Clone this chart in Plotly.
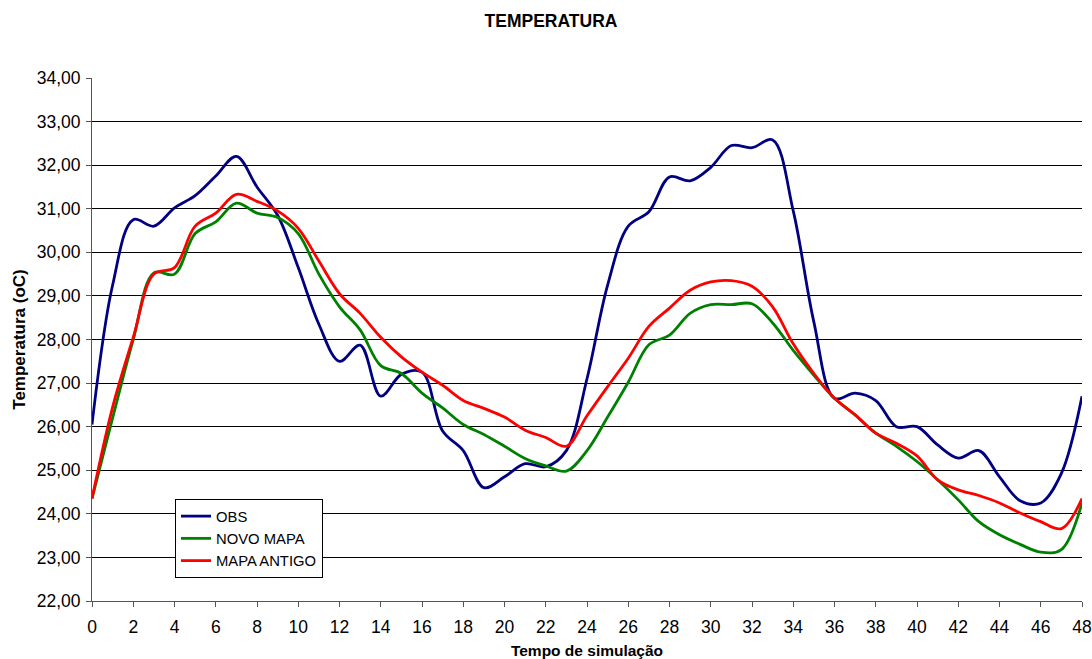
import plotly.graph_objects as go

hours = list(range(49))
obs = [26.05, 29.25, 30.75, 30.6, 31.02, 31.3, 31.75, 32.2, 31.5, 30.85,
       29.65, 28.35, 27.5, 27.87, 26.7, 27.2, 27.25, 25.9, 25.45, 24.6,
       24.85, 25.15, 25.08, 25.45, 27.1, 29.25, 30.6, 30.93, 31.73, 31.64,
       31.95, 32.45, 32.4, 32.58, 30.95, 28.4, 26.65, 26.77, 26.6, 26.0,
       26.0, 25.58, 25.28, 25.45, 24.85, 24.3, 24.25, 24.93, 26.7]
novo_mapa = [24.35, 26.2, 28.0, 29.53, 29.5, 30.43, 30.7, 31.13, 30.9, 30.8,
             30.43, 29.5, 28.75, 28.22, 27.4, 27.22, 26.77, 26.43, 26.05, 25.82,
             25.55, 25.27, 25.1, 24.98, 25.45, 26.22, 27.02, 27.88, 28.1, 28.6,
             28.8, 28.8, 28.82, 28.38, 27.75, 27.18, 26.65, 26.27, 25.85, 25.55,
             25.2, 24.78, 24.32, 23.82, 23.52, 23.3, 23.12, 23.18, 24.25]
mapa_antigo = [24.35, 26.45, 28.05, 29.5, 29.65, 30.6, 30.9, 31.33, 31.17, 30.95,
               30.55, 29.8, 29.05, 28.6, 28.05, 27.6, 27.25, 26.95, 26.6, 26.42,
               26.22, 25.92, 25.75, 25.55, 26.25, 26.92, 27.57, 28.3, 28.72, 29.13,
               29.32, 29.35, 29.22, 28.75, 27.9, 27.22, 26.65, 26.27, 25.85, 25.62,
               25.33, 24.78, 24.55, 24.42, 24.25, 24.02, 23.82, 23.66, 24.35]

series_names = ["OBS", "NOVO MAPA", "MAPA ANTIGO"]
series_colors = ["#000080", "#008000", "#FF0000"]
x_ticks = list(range(0, 49, 2))
y_ticks = list(range(22, 35))

FONT = "Liberation Sans, Arial, sans-serif"

fig = go.Figure()
for name, vals, col in zip(series_names, [obs, novo_mapa, mapa_antigo], series_colors):
    fig.add_trace(go.Scatter(
        x=hours, y=vals, name=name, mode="lines",
        line=dict(color=col, width=2.8, shape="spline", smoothing=1.0),
    ))

fig.update_layout(
    width=1092, height=659,
    margin=dict(l=92, r=10, t=78, b=58, autoexpand=False),
    paper_bgcolor="white", plot_bgcolor="white",
    font=dict(family=FONT, color="black", size=17),
    separators=",.",
    title=dict(text="<b>TEMPERATURA</b>", x=551 / 1092, xanchor="center",
               y=1 - 21 / 659, yanchor="middle",
               font=dict(size=17.5, family=FONT, color="black")),
    legend=dict(x=(175 - 92) / 990, y=(601 - 499) / 523, xanchor="left", yanchor="top",
                bordercolor="black", borderwidth=1, bgcolor="white",
                font=dict(size=14.8, family=FONT, color="black"),
                tracegroupgap=0, itemwidth=30),
    showlegend=True,
)

fig.update_xaxes(
    range=[0, 48], tickvals=x_ticks, ticktext=[str(v) for v in x_ticks],
    showgrid=False, zeroline=False,
    showline=True, linecolor="#555555", linewidth=1,
    ticks="outside", ticklen=5, tickcolor="#555555",
    tickfont=dict(size=17.5, family=FONT), ticklabelstandoff=5,
    title=dict(text="<b>Tempo de simulação</b>", font=dict(size=15.5, family=FONT), standoff=13),
)
fig.update_yaxes(
    range=[22, 34], tickvals=y_ticks, tickformat=".2f",
    showgrid=True, gridcolor="black", gridwidth=1, zeroline=False,
    showline=True, linecolor="#555555", linewidth=1,
    ticks="outside", ticklen=5, tickcolor="#555555",
    tickfont=dict(size=17.5, family=FONT), ticklabelstandoff=2,
    title=dict(text="<b>Temperatura (oC)</b>", font=dict(size=17, family=FONT), standoff=6),
)

fig.write_html("out.html", config={"displayModeBar": False})

with open("out.html", "r", encoding="utf-8") as f:
    html = f.read()
html = html.replace("<head>", "<head><style>html,body{margin:0;padding:0;}</style>", 1)
with open("out.html", "w", encoding="utf-8") as f:
    f.write(html)
